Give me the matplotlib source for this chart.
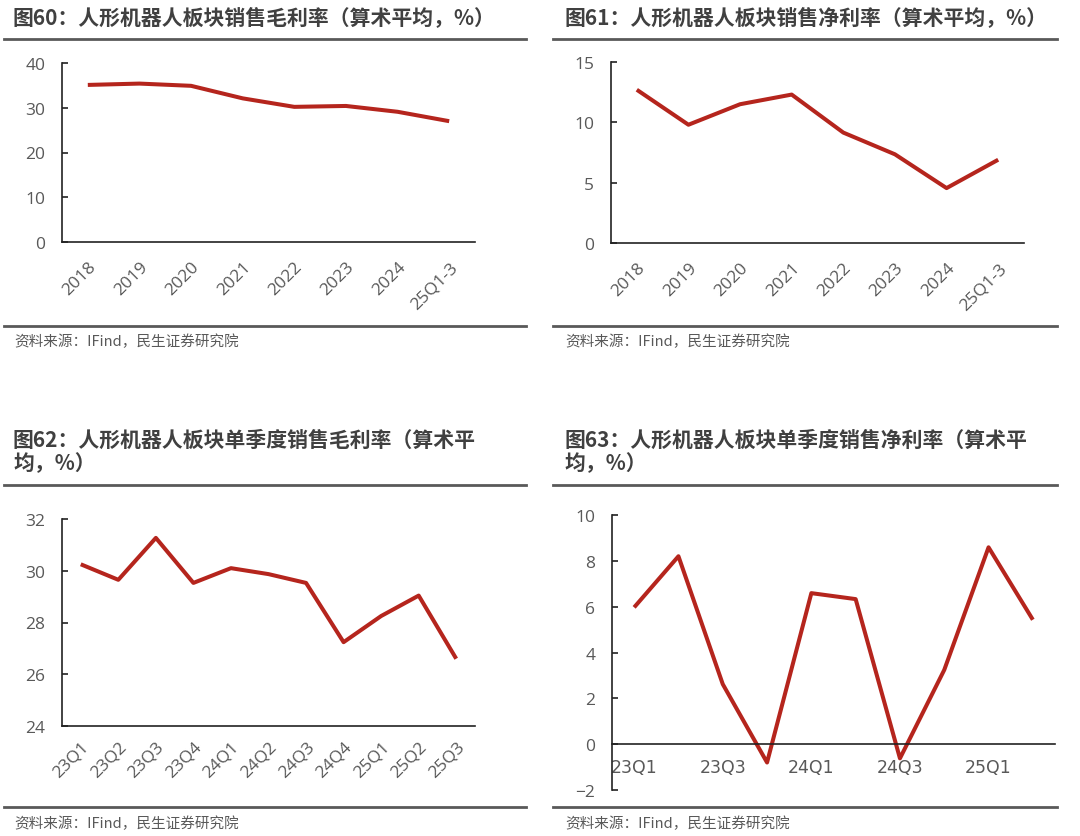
import matplotlib
matplotlib.use("Agg")
import matplotlib.pyplot as plt
from matplotlib.lines import Line2D

W, H = 1080, 837
LINE_COLOR = "#B5251D"
TITLE_COLOR = "#404040"
TICK_COLOR = "#595959"
CJK = ["Noto Sans CJK SC", "DejaVu Sans"]
NUM = ["Open Sans", "Noto Sans CJK SC", "DejaVu Sans"]

# ---- data ----
years = ["2018", "2019", "2020", "2021", "2022", "2023", "2024", "25Q1-3"]
gross_annual = [35.1, 35.4, 34.9, 32.1, 30.2, 30.4, 29.1, 27.0]
net_annual = [12.7, 9.8, 11.5, 12.3, 9.15, 7.35, 4.55, 6.9]

quarters_g = ["23Q1", "23Q2", "23Q3", "23Q4", "24Q1", "24Q2", "24Q3", "24Q4", "25Q1", "25Q2", "25Q3"]
gross_q = [30.25, 29.65, 31.27, 29.53, 30.1, 29.87, 29.53, 27.24, 28.25, 29.04, 26.6]

quarters_n = ["23Q1", "23Q2", "23Q3", "23Q4", "24Q1", "24Q2", "24Q3", "24Q4", "25Q1", "25Q2"]
net_q = [5.97, 8.2, 2.62, -0.8, 6.59, 6.33, -0.62, 3.24, 8.59, 5.43]

titles = [
    "图60：人形机器人板块销售毛利率（算术平均，%）",
    "图61：人形机器人板块销售净利率（算术平均，%）",
    "图62：人形机器人板块单季度销售毛利率（算术平\n均，%）",
    "图63：人形机器人板块单季度销售净利率（算术平\n均，%）",
]
source = "资料来源：IFind，民生证券研究院"

fig = plt.figure(figsize=(W / 100, H / 100), dpi=100)
fig.patch.set_facecolor("white")

TICK_SIZE = 12.5


def ax_px(left, top, right, bottom):
    return fig.add_axes([left / W, 1 - bottom / H, (right - left) / W, (bottom - top) / H])


def hline(x0, x1, y, lw=2.0):
    fig.add_artist(Line2D([x0 / W, x1 / W], [1 - y / H, 1 - y / H], transform=fig.transFigure,
                          color="#595959", lw=lw))


def text_px(x, y, s, **kw):
    fig.text(x / W, 1 - y / H, s, **kw)


def style(ax):
    for s in ["top", "right"]:
        ax.spines[s].set_visible(False)
    for s in ["left", "bottom"]:
        ax.spines[s].set_color("#222222")
        ax.spines[s].set_linewidth(1.2)
    ax.tick_params(axis="y", direction="in", length=4, width=1.2, colors="#222222",
                   labelcolor=TICK_COLOR, labelsize=TICK_SIZE, pad=12)
    ax.tick_params(axis="x", length=0, labelcolor=TICK_COLOR, labelsize=TICK_SIZE)
    for lab in ax.get_yticklabels() + ax.get_xticklabels():
        lab.set_fontfamily(NUM)


# ---- panel 1 ----
ax1 = ax_px(62, 64, 475, 243)
ax1.plot(range(len(years)), gross_annual, color=LINE_COLOR, lw=2.9, solid_capstyle="butt")
ax1.set_xlim(-0.5, len(years) - 0.5)
ax1.set_ylim(0, 40)
ax1.set_yticks([0, 10, 20, 30, 40])
ax1.set_xticks(range(len(years)))
ax1.set_xticklabels(years, rotation=45, ha="right", rotation_mode="anchor")
style(ax1)
ax1.tick_params(axis="x", pad=12)

# ---- panel 2 ----
ax2 = ax_px(611, 63, 1024, 244)
ax2.plot(range(len(years)), net_annual, color=LINE_COLOR, lw=2.9, solid_capstyle="butt")
ax2.set_xlim(-0.5, len(years) - 0.5)
ax2.set_ylim(0, 15)
ax2.set_yticks([0, 5, 10, 15])
ax2.set_xticks(range(len(years)))
ax2.set_xticklabels(years, rotation=45, ha="right", rotation_mode="anchor")
style(ax2)
ax2.tick_params(axis="x", pad=12)

# ---- panel 3 ----
ax3 = ax_px(62, 520, 475, 727)
ax3.plot(range(len(quarters_g)), gross_q, color=LINE_COLOR, lw=2.9, solid_capstyle="butt")
ax3.set_xlim(-0.5, len(quarters_g) - 0.5)
ax3.set_ylim(24, 32)
ax3.set_yticks([24, 26, 28, 30, 32])
ax3.set_xticks(range(len(quarters_g)))
ax3.set_xticklabels(quarters_g, rotation=45, ha="right", rotation_mode="anchor")
style(ax3)
ax3.tick_params(axis="x", pad=9)

# ---- panel 4 ----
ax4 = ax_px(612, 516, 1055, 791)
ax4.plot(range(len(quarters_n)), net_q, color=LINE_COLOR, lw=2.9, solid_capstyle="butt")
ax4.set_xlim(-0.5, len(quarters_n) - 0.5)
ax4.set_ylim(-2, 10)
ax4.set_yticks([-2, 0, 2, 4, 6, 8, 10])
ax4.set_xticks(range(0, len(quarters_n), 2))
ax4.set_xticklabels(quarters_n[::2])
style(ax4)
ax4.spines["bottom"].set_position(("data", 0))
ax4.tick_params(axis="x", pad=10)

# ---- titles, separators, sources ----
title_kw = dict(fontsize=15, fontweight="bold", color=TITLE_COLOR, family=CJK, va="center", ha="left")
text_px(13, 18, titles[0], **title_kw)
text_px(564, 18, titles[1], **title_kw)
text_px(13, 452, titles[2], linespacing=1.15, **title_kw)
text_px(564, 452, titles[3], linespacing=1.15, **title_kw)

hline(4, 526, 40)
hline(553, 1057, 40)
hline(4, 526, 486)
hline(553, 1057, 486)

hline(4, 526, 327)
hline(553, 1057, 327)
hline(4, 526, 808)
hline(553, 1057, 808)

src_kw = dict(fontsize=10.5, color=TICK_COLOR, family=CJK, va="center", ha="left")
text_px(14, 342, source, **src_kw)
text_px(565, 342, source, **src_kw)
text_px(14, 824, source, **src_kw)
text_px(565, 824, source, **src_kw)

fig.savefig("out.png", dpi=100, facecolor="white")
